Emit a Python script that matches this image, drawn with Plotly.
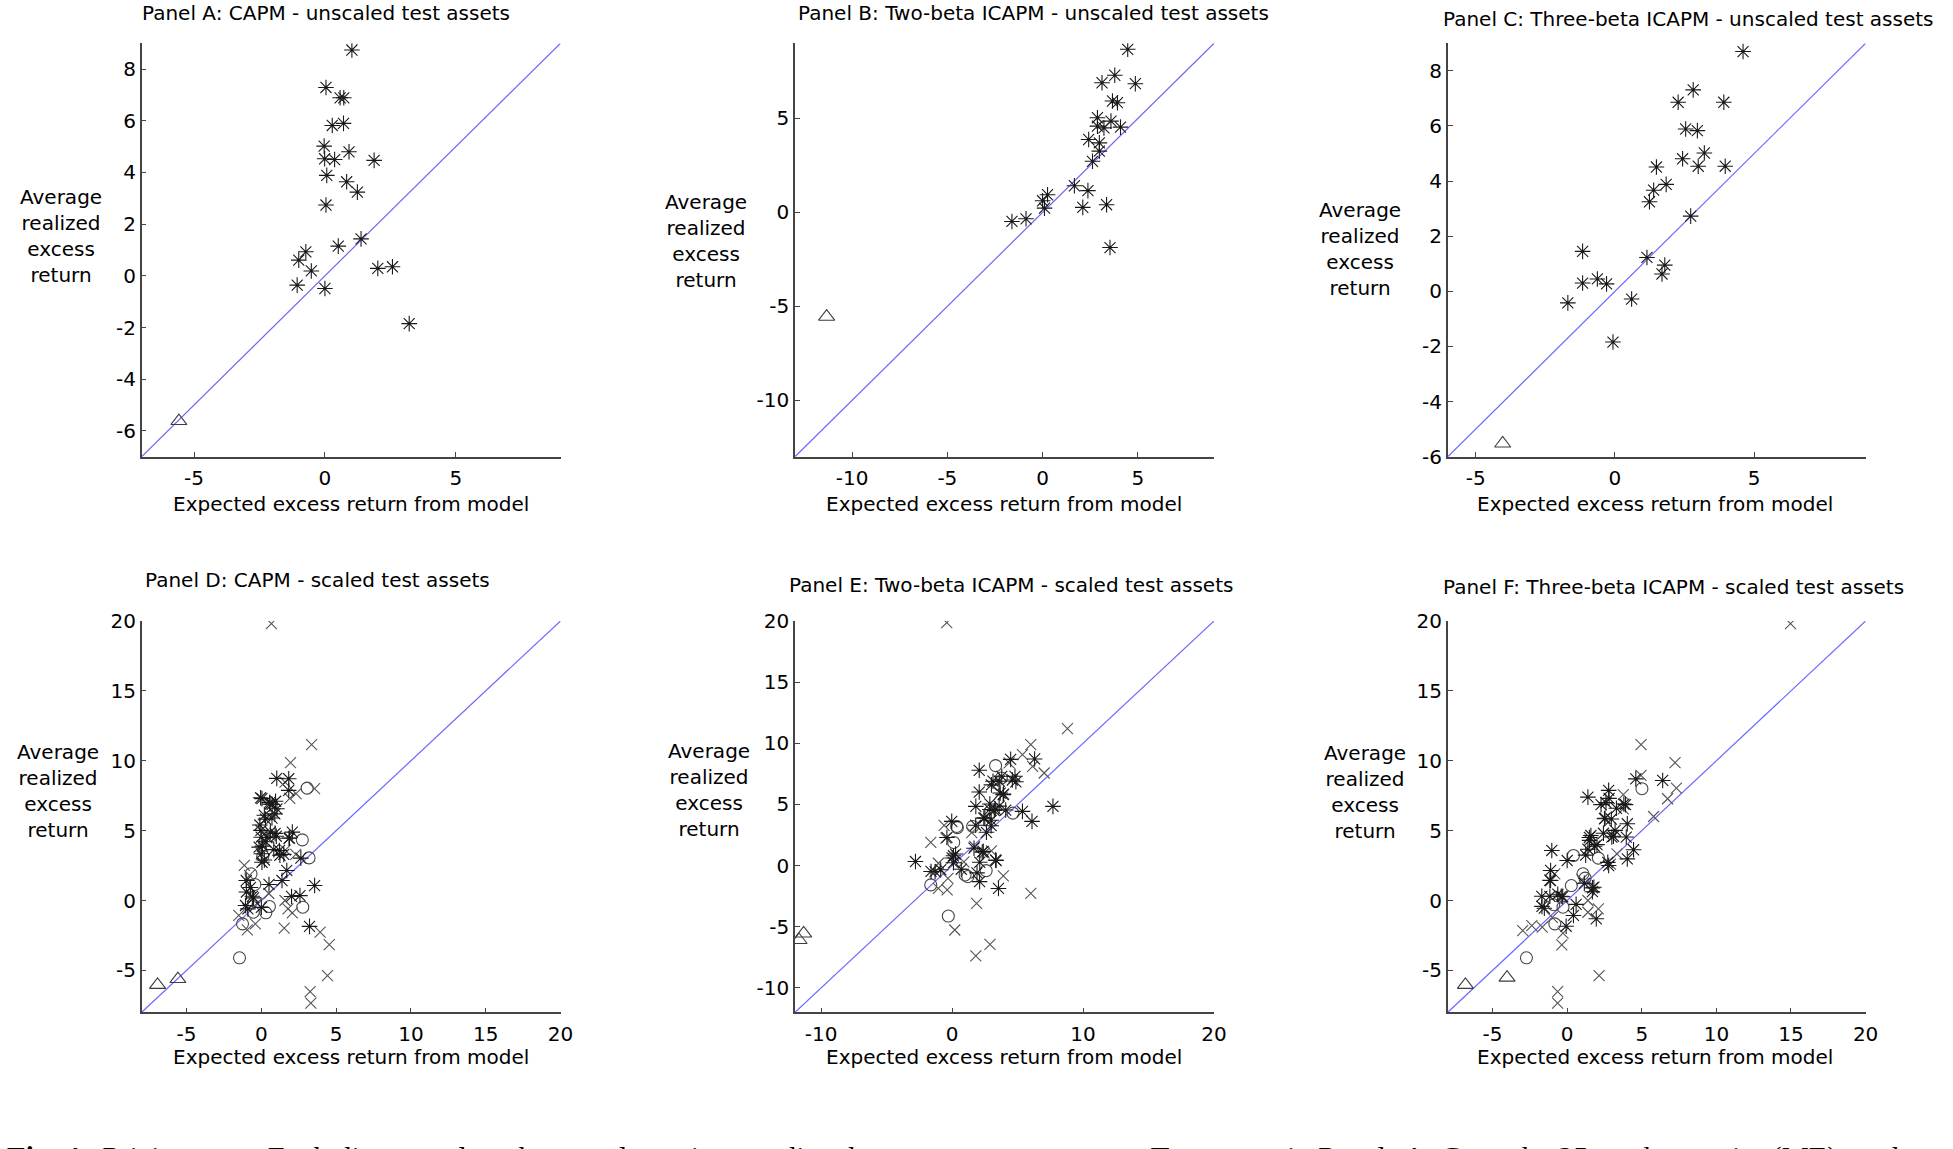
import plotly.graph_objects as go

W, H = 1953, 1149

# ---------------- data ----------------
# Panel A: CAPM - unscaled (asterisks + triangle)
A_star_x = [1.03, 0.04, 0.58, 0.72, 0.28, 0.71, -0.03, -0.01, 0.37, 0.92, 1.88, 0.07, 0.83, 1.24, 0.04,
            1.38, 0.51, -0.73, -1.00, -0.52, -1.06, 0.00, 2.02, 2.58, 3.22]
A_star_y = [8.74, 7.29, 6.89, 6.89, 5.82, 5.90, 5.02, 4.53, 4.50, 4.80, 4.47, 3.89, 3.64, 3.24, 2.74,
            1.43, 1.15, 0.93, 0.61, 0.19, -0.36, -0.49, 0.29, 0.35, -1.85]
A_tri_x = [-5.58]
A_tri_y = [-5.62]

# Panel B: Two-beta ICAPM - unscaled
B_star_x = [4.47, 3.79, 3.12, 4.87, 3.67, 3.93, 2.88, 3.59, 2.88, 3.22, 4.09, 2.42, 2.98, 2.98, 2.62,
            1.67, 2.38, 0.26, 0.00, 0.10, 2.11, 3.36, -0.87, -1.61, 3.54]
B_star_y = [8.68, 7.30, 6.90, 6.85, 5.93, 5.84, 5.04, 4.86, 4.59, 4.50, 4.54, 3.88, 3.70, 3.26, 2.72,
            1.42, 1.16, 0.94, 0.62, 0.23, 0.27, 0.41, -0.34, -0.48, -1.87]
B_tri_x = [-11.34]
B_tri_y = [-5.55]

# Panel C: Three-beta ICAPM - unscaled
C_star_x = [4.60, 2.81, 2.27, 3.91, 2.54, 2.96, 3.21, 2.43, 2.99, 3.96, 1.49, 1.84, 1.39, 1.24, 2.72,
            -1.16, 1.15, 1.79, 1.69, -1.16, -0.63, -0.30, -1.69, 0.60, -0.07]
C_star_y = [8.70, 7.31, 6.86, 6.86, 5.89, 5.83, 5.02, 4.81, 4.54, 4.54, 4.51, 3.88, 3.67, 3.25, 2.73,
            1.45, 1.23, 0.95, 0.63, 0.30, 0.45, 0.27, -0.42, -0.28, -1.84]
C_tri_x = [-4.03]
C_tri_y = [-5.52]

# Panel D: CAPM - scaled (adds a second asterisk set, crosses, circles, second triangle)
D_star2_x = [1.83, 1.83, 1.04, 0.95, 0.55, -0.05, 0.20, 0.90, -0.10, 0.60, 1.00, 2.07, 1.85, 0.30, -0.15,
             0.00, 1.21, 1.50, 2.64, 1.70, 0.20, 3.56, -1.01, -0.90, -0.60]
D_star2_y = [8.71, 7.88, 6.56, 7.10, 7.00, 7.35, 6.10, 6.20, 5.40, 4.90, 4.60, 4.89, 4.45, 4.20, 3.82,
             3.34, 3.58, 3.30, 3.03, 2.15, 2.90, 1.07, 1.43, -0.60, 0.30]
D_cross_x = [0.67, 3.36, 1.95, 3.56, 2.32, 1.58, 1.90, 2.30, 1.60, 1.58, 1.78, 2.07, 1.53, 3.93, 4.54,
             4.42, 3.26, 3.31, -0.94, -0.40, -1.51, -1.14, -0.80, -0.30, 0.50]
D_cross_y = [19.81, 11.15, 9.86, 8.00, 7.64, 8.47, 7.30, 3.30, 3.60, 0.00, -0.60, -0.88, -1.98, -2.27, -3.15,
             -5.37, -6.52, -7.35, -2.10, -1.67, -1.07, 2.51, 1.80, -0.20, 0.50]
D_circ_x = [3.06, 2.74, 3.19, 2.77, -1.46, -1.26, -0.69, 0.10, 0.54, 0.30, -0.44, -0.54]
D_circ_y = [8.04, 4.34, 3.05, -0.48, -4.10, -1.67, 1.91, 3.17, -0.43, -0.88, 1.15, -0.84]
D_tri2_x = [-6.94]
D_tri2_y = [-6.04]

# Panel E: Two-beta ICAPM - scaled
E_star2_x = [-2.80, 2.07, 2.07, 1.81, 7.70, 5.37, 6.10, 6.30, 3.32, 2.10, -0.03, -0.40, 0.10, 1.80, 2.50,
             3.00, 3.60, 4.60, 4.80, 3.90, 3.30, 1.90, 0.70, -1.30, 2.30]
E_star2_y = [0.33, 7.79, 6.01, 4.84, 4.84, 4.43, 3.61, 8.72, 0.46, -1.31, 3.61, 2.30, 0.80, 3.30, 3.90,
             6.60, 6.90, 7.00, 7.30, 5.80, 4.60, -0.60, -0.30, -0.50, 1.10]
E_cross_x = [-0.41, 8.81, 6.01, 5.37, 6.15, 7.03, 4.35, 3.91, 6.01, 1.87, 0.20, 2.89, 1.81, -0.61, -1.63,
             -0.47, -1.05, -0.38, -1.05, 1.72, 2.45, 3.00, 1.50, 0.90, -0.32]
E_cross_y = [19.86, 11.20, 9.89, 9.07, 8.11, 7.57, 8.39, -0.85, -2.27, -3.09, -5.27, -6.45, -7.38, 3.28, 1.89,
             2.24, -1.86, -1.99, 0.19, 1.56, 1.01, 1.20, 2.70, 0.30, -1.04]
E_circ_x = [3.32, 4.64, -0.29, -1.63, 0.12, 0.35, 0.99, 2.60, 3.76, 1.57, 0.40, 1.20]
E_circ_y = [8.17, 4.29, -4.13, -1.58, 1.89, 3.20, -0.77, -0.41, 7.16, 3.20, 3.10, -0.90]
E_tri2_x = [-11.69]
E_tri2_y = [-6.09]

# Panel F: Three-beta ICAPM - scaled
F_star2_x = [-1.03, -1.11, -1.11, -1.70, -1.53, 0.42, 1.39, 2.78, 2.50, 1.59, 4.03, 4.45, 4.03, 6.40, 2.78,
             1.95, 0.00, 2.60, 3.30, 3.80, 1.50, 2.00, 1.70, -0.40, 3.10]
F_star2_y = [3.58, 2.15, 1.43, 0.30, -0.55, -1.07, 7.40, 7.88, 5.85, 4.65, 5.49, 3.63, 2.98, 8.59, 2.50,
             -1.31, 2.86, 7.00, 6.60, 6.90, 4.30, 4.00, 0.90, 0.30, 4.60]
F_cross_x = [14.97, 4.95, 7.23, 4.95, 7.32, 6.73, 5.79, 3.76, 3.76, -2.98, -2.37, -1.67, -0.28, -0.36, 2.14,
             -0.64, -0.64, 1.39, 2.09, 1.39, -0.83, 3.34, 2.90, 1.00, -1.00]
F_cross_y = [19.81, 11.15, 9.86, 8.95, 8.04, 7.28, 6.01, 7.57, 6.56, -2.15, -1.79, -1.91, -2.34, -3.17, -5.37,
             -6.52, -7.35, -0.84, -0.60, 0.00, 1.91, 3.34, 2.60, 1.50, -1.20]
F_circ_x = [5.01, 0.42, 2.09, 1.06, 0.28, -2.73, -0.83, -0.28, -0.90, 1.20]
F_circ_y = [8.00, 3.22, 3.03, 1.91, 1.07, -4.10, -1.67, -0.48, -0.30, 1.60]
F_tri2_x = [-6.82]
F_tri2_y = [-6.04]

# axis ranges and ticks
ranges = {
    "A": (-7, 9, -7, 9), "B": (-13, 9, -13, 9), "C": (-6, 9, -6, 9),
    "D": (-8, 20, -8, 20), "E": (-12, 20, -12, 20), "F": (-8, 20, -8, 20),
}
xticks = {"A": [-5, 0, 5], "B": [-10, -5, 0, 5], "C": [-5, 0, 5],
          "D": [-5, 0, 5, 10, 15, 20], "E": [-10, 0, 10, 20], "F": [-5, 0, 5, 10, 15, 20]}
yticks = {"A": [-6, -4, -2, 0, 2, 4, 6, 8], "B": [-10, -5, 0, 5], "C": [-6, -4, -2, 0, 2, 4, 6, 8],
          "D": [-5, 0, 5, 10, 15, 20], "E": [-10, -5, 0, 5, 10, 15, 20], "F": [-5, 0, 5, 10, 15, 20]}
titles = {
    "A": "Panel A: CAPM - unscaled test assets",
    "B": "Panel B: Two-beta ICAPM - unscaled test assets",
    "C": "Panel C: Three-beta ICAPM - unscaled test assets",
    "D": "Panel D: CAPM - scaled test assets",
    "E": "Panel E: Two-beta ICAPM - scaled test assets",
    "F": "Panel F: Three-beta ICAPM - scaled test assets",
}
xlabel = "Expected excess return from model"
ylabel = "Average<br>realized<br>excess<br>return"

series = {
    "A": dict(star=[(A_star_x, A_star_y)], tri=[(A_tri_x, A_tri_y)]),
    "B": dict(star=[(B_star_x, B_star_y)], tri=[(B_tri_x, B_tri_y)]),
    "C": dict(star=[(C_star_x, C_star_y)], tri=[(C_tri_x, C_tri_y)]),
    "D": dict(star=[(A_star_x, A_star_y), (D_star2_x, D_star2_y)], cross=[(D_cross_x, D_cross_y)],
              circ=[(D_circ_x, D_circ_y)], tri=[(A_tri_x, A_tri_y), (D_tri2_x, D_tri2_y)]),
    "E": dict(star=[(B_star_x, B_star_y), (E_star2_x, E_star2_y)], cross=[(E_cross_x, E_cross_y)],
              circ=[(E_circ_x, E_circ_y)], tri=[(B_tri_x, B_tri_y), (E_tri2_x, E_tri2_y)]),
    "F": dict(star=[(C_star_x, C_star_y), (F_star2_x, F_star2_y)], cross=[(F_cross_x, F_cross_y)],
              circ=[(F_circ_x, F_circ_y)], tri=[(C_tri_x, C_tri_y), (F_tri2_x, F_tri2_y)]),
}

# ---------------- layout geometry (pixels) ----------------
col_x = {"A": (141.7, 560.5), "B": (795, 1214), "C": (1447.8, 1865.6)}
col_x["D"], col_x["E"], col_x["F"] = col_x["A"], col_x["B"], col_x["C"]
row_y = {"A": (43.3, 456.7), "B": (43.3, 456.7), "C": (43.3, 456.7),
         "D": (621, 1012.3), "E": (621, 1012.3), "F": (621, 1012.3)}
title_pos = {"A": (326, 13), "B": (1033, 13), "C": (1688, 19),
             "D": (317, 580), "E": (1011, 585), "F": (1673, 587)}
ylab_pos = {"A": (61, 236), "B": (706, 241), "C": (1360, 249),
            "D": (58, 791), "E": (709, 790), "F": (1365, 792)}
xlab_pos = {"A": (351, 504), "B": (1004, 504), "C": (1655, 504),
            "D": (351, 1057), "E": (1004, 1057), "F": (1655, 1057)}


def px(x):
    return x / W


def py(y):
    return 1 - y / H


FONT = "DejaVu Sans"
AXC = "#444444"
STAR_C = "rgb(25,25,25)"
CROSS_C = "rgb(85,85,85)"
CIRC_C = "rgb(70,70,70)"
TRI_C = "rgb(60,60,60)"
LINE_C = "rgb(105,105,255)"

fig = go.Figure()
layout = dict(width=W, height=H, margin=dict(l=0, r=0, t=0, b=0),
              paper_bgcolor="white", plot_bgcolor="white", showlegend=False,
              font=dict(family=FONT, size=20, color="black"))
annotations = []

sym = {"star": ("asterisk-open", 13, STAR_C), "cross": ("x-thin-open", 11, CROSS_C),
       "circ": ("circle-open", 12, CIRC_C), "tri": ("triangle-up-open", 14, TRI_C)}

for i, k in enumerate(["A", "B", "C", "D", "E", "F"]):
    n = "" if i == 0 else str(i + 1)
    xa, ya = "x" + n, "y" + n
    x0, x1, y0, y1 = ranges[k]
    # diagonal 45-degree line across the axes
    fig.add_trace(go.Scatter(x=[x0, x1], y=[y0, y1], mode="lines", xaxis=xa, yaxis=ya,
                             line=dict(color=LINE_C, width=1.2), hoverinfo="skip"))
    for kind in ["circ", "cross", "star", "tri"]:
        for sx, sy in series[k].get(kind, []):
            s, size, col = sym[kind]
            fig.add_trace(go.Scatter(x=sx, y=sy, mode="markers", xaxis=xa, yaxis=ya,
                                     marker=dict(symbol=s, size=size, color=col,
                                                 line=dict(color=col, width=1.1))))
    left, right = col_x[k]
    top, bottom = row_y[k]
    common = dict(showline=True, linecolor=AXC, linewidth=1.5, ticks="inside", ticklen=5,
                  tickwidth=1.2, tickcolor=AXC, showgrid=False, zeroline=False, automargin=False,
                  tickfont=dict(family=FONT, size=20, color="black"), mirror=False)
    layout["xaxis" + n] = dict(domain=[px(left), px(right)], range=[x0, x1], anchor=ya,
                               tickvals=xticks[k], ticktext=[str(v) for v in xticks[k]],
                               ticklabelstandoff=3, **common)
    layout["yaxis" + n] = dict(domain=[py(bottom), py(top)], range=[y0, y1], anchor=xa,
                               tickvals=yticks[k], ticktext=[str(v) for v in yticks[k]], **common)
    tx, ty = title_pos[k]
    annotations.append(dict(text=titles[k], x=px(tx), y=py(ty), xref="paper", yref="paper",
                            xanchor="center", yanchor="middle", showarrow=False,
                            font=dict(family=FONT, size=20, color="black")))
    lx, ly = ylab_pos[k]
    annotations.append(dict(text=ylabel, x=px(lx), y=py(ly), xref="paper", yref="paper",
                            xanchor="center", yanchor="middle", showarrow=False, align="center",
                            font=dict(family=FONT, size=20, color="black")))
    bx, by = xlab_pos[k]
    annotations.append(dict(text=xlabel, x=px(bx), y=py(by), xref="paper", yref="paper",
                            xanchor="center", yanchor="middle", showarrow=False,
                            font=dict(family=FONT, size=20, color="black")))

caption = ("<b>Fig. 4.</b>  Pricing tests: Each diagram plots the sample against predicted average "
           "excess returns. Test assets in Panels A–C are the 25 market equity (ME)- and")
annotations.append(dict(text=caption, x=px(5), y=py(1138), xref="paper", yref="paper",
                        xanchor="left", yanchor="top", showarrow=False,
                        font=dict(family="Liberation Serif", size=30.4, color="black")))

layout["annotations"] = annotations
fig.update_layout(**layout)
fig.write_html("out.html")
